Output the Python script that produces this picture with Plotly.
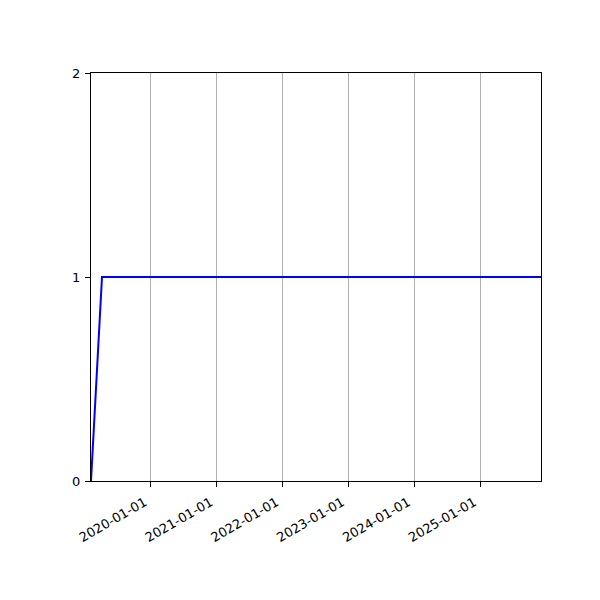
import plotly.graph_objects as go

# dates and values
dates = ["2019-02-04", "2019-04-06", "2025-12-05"]
values = [0, 1, 1]
x_ticks = ["2020-01-01", "2021-01-01", "2022-01-01", "2023-01-01", "2024-01-01", "2025-01-01"]
y_ticks = [0, 1, 2]

fig = go.Figure()
fig.add_trace(go.Scatter(x=dates, y=values, mode="lines",
                         line=dict(color="blue", width=2)))

fig.update_layout(width=600, height=600,
                  plot_bgcolor="white", paper_bgcolor="white",
                  showlegend=False,
                  font=dict(family="DejaVu Sans", size=13, color="black"),
                  margin=dict(l=83, r=67, t=65, b=127))
fig.update_xaxes(range=[dates[0], dates[-1]],
                 tickvals=x_ticks, ticktext=x_ticks, tickangle=-30,
                 ticklabelshift=-6, ticklabelstandoff=3,
                 showgrid=True, gridcolor="#b0b0b0", gridwidth=1,
                 showline=True, linecolor="black", linewidth=1, mirror=True,
                 ticks="outside", ticklen=5, tickcolor="black", zeroline=False)
fig.update_yaxes(range=[0, 2], tickvals=y_ticks, ticklabelstandoff=2,
                 showgrid=False,
                 showline=True, linecolor="black", linewidth=1, mirror=True,
                 ticks="outside", ticklen=5, tickcolor="black", zeroline=False)

fig.write_html("out.html")
